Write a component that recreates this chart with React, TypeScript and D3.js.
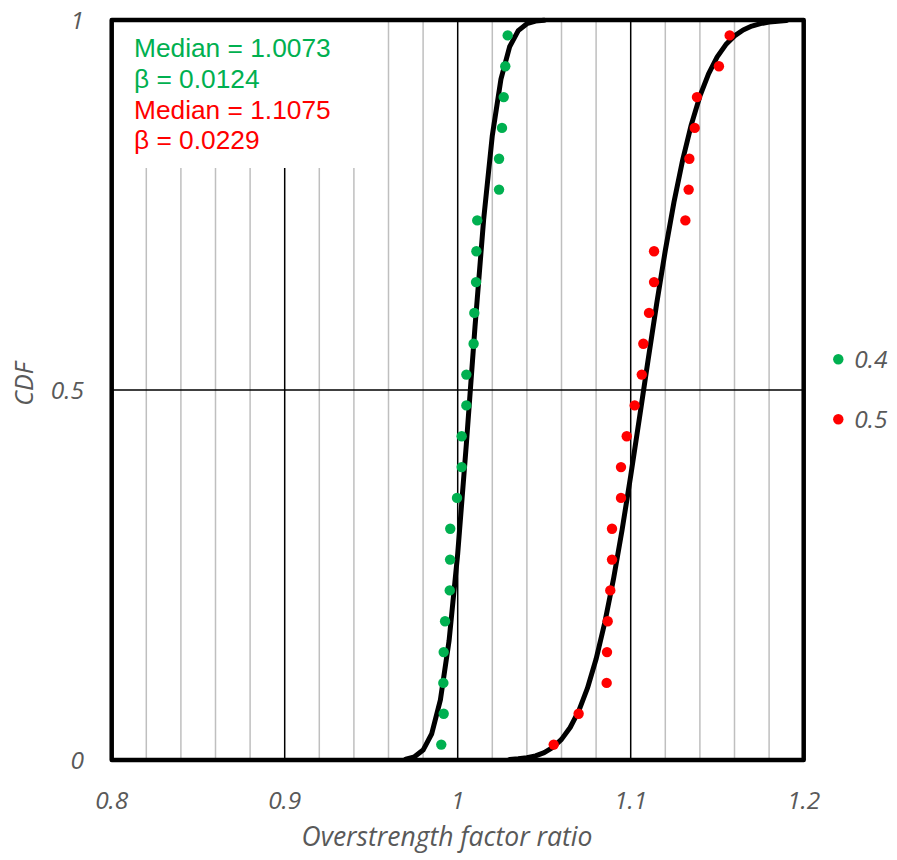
import React from 'react';
import * as d3 from 'd3';

const W = 897;
const H = 860;

// Axis ticks
const xTicks = [0.8, 0.9, 1.0, 1.1, 1.2];
const xTickLabels = ['0.8', '0.9', '1', '1.1', '1.2'];
const yTicks = [0, 0.5, 1];
const yTickLabels = ['0', '0.5', '1'];
const minorGridX = [0.82, 0.84, 0.86, 0.88, 0.92, 0.94, 0.96, 0.98, 1.02, 1.04, 1.06, 1.08, 1.12, 1.14, 1.16, 1.18];
const majorGridX = [0.9, 1.0, 1.1];
const majorGridY = [0.5];

// Empirical CDF positions (24 samples)
const cdfLevels = [
  0.0208, 0.0625, 0.1042, 0.1458, 0.1875, 0.2292, 0.2708, 0.3125, 0.3542, 0.3958, 0.4375, 0.4792,
  0.5208, 0.5625, 0.6042, 0.6458, 0.6875, 0.7292, 0.7708, 0.8125, 0.8542, 0.8958, 0.9375, 0.9792,
];

// Series "0.4" (green) sorted ratios
const series04 = [
  0.9905, 0.9919, 0.9917, 0.9919, 0.9927, 0.9954, 0.9956, 0.9957, 0.9996, 1.0023, 1.0023, 1.005,
  1.005, 1.0092, 1.0096, 1.0106, 1.0108, 1.0113, 1.0239, 1.0239, 1.0256, 1.0266, 1.0275, 1.0289,
];
// Series "0.5" (red) sorted ratios
const series05 = [
  1.0555, 1.0699, 1.0861, 1.0863, 1.0867, 1.0882, 1.0892, 1.0892, 1.0944, 1.0944, 1.0977, 1.1023,
  1.1064, 1.1073, 1.1106, 1.1135, 1.1135, 1.1316, 1.1335, 1.1339, 1.137, 1.1383, 1.151, 1.1572,
];

// Fitted curves
const fit04X = [0.97, 0.975, 0.98, 0.985, 0.99, 0.995, 1.0, 1.005, 1.01, 1.015, 1.02, 1.025, 1.03, 1.035, 1.04, 1.045, 1.05];
const fit04Y = [0.0012, 0.0043, 0.0134, 0.0355, 0.0812, 0.1609, 0.2787, 0.4268, 0.5854, 0.7304, 0.8438, 0.92, 0.9638, 0.9857, 0.995, 0.9985, 0.9996];
const fit05X = [
  1.03, 1.035, 1.04, 1.045, 1.05, 1.055, 1.06, 1.065, 1.07, 1.075, 1.08, 1.085, 1.09, 1.095, 1.1, 1.105, 1.11,
  1.115, 1.12, 1.125, 1.13, 1.135, 1.14, 1.145, 1.15, 1.155, 1.16, 1.165, 1.17, 1.175, 1.18, 1.185, 1.19,
];
const fit05Y = [
  0.0008, 0.0016, 0.003, 0.0056, 0.01, 0.017, 0.0279, 0.0439, 0.0665, 0.097, 0.1364, 0.1855, 0.2438, 0.3106,
  0.3839, 0.4613, 0.5398, 0.6165, 0.6885, 0.7537, 0.8105, 0.8583, 0.897, 0.9273, 0.9501, 0.9668, 0.9785,
  0.9865, 0.9918, 0.9951, 0.9972, 0.9984, 0.9992,
];

const annotations = [
  { text: 'Median = 1.0073', color: '#00B050' },
  { text: 'β = 0.0124', color: '#00B050' },
  { text: 'Median = 1.1075', color: '#FF0000' },
  { text: 'β = 0.0229', color: '#FF0000' },
];

const legendItems = [
  { label: '0.4', color: '#00B050' },
  { label: '0.5', color: '#FF0000' },
];

const GREEN = '#00B050';
const RED = '#FF0000';
const GRAY_TEXT = '#595959';
const TICK_FONT = '"Open Sans", "DejaVu Sans", sans-serif';
const ANNO_FONT = '"Liberation Sans", Arial, sans-serif';

export default function App() {
  const left = 111.7;
  const right = 803.7;
  const top = 20;
  const bottom = 760;

  const x = d3.scaleLinear().domain([0.8, 1.2]).range([left, right]);
  const y = d3.scaleLinear().domain([0, 1]).range([bottom, top]);

  const line = d3
    .line<[number, number]>()
    .x((d) => x(d[0]))
    .y((d) => y(d[1]));

  const fit04 = fit04X.map((v, i) => [v, fit04Y[i]] as [number, number]);
  const fit05 = fit05X.map((v, i) => [v, fit05Y[i]] as [number, number]);

  const boxW = 262;
  const boxH = 148;

  return (
    <svg
      width={W}
      height={H}
      style={{ position: 'absolute', left: 0, top: 0, background: '#fff' }}
      xmlns="http://www.w3.org/2000/svg"
    >
      <rect x={0} y={0} width={W} height={H} fill="#fff" />
      {/* minor vertical grid */}
      {minorGridX.map((v) => (
        <line key={'mg' + v} x1={x(v)} x2={x(v)} y1={top} y2={bottom} stroke="#BFBFBF" strokeWidth={1.5} />
      ))}
      {majorGridX.map((v) => (
        <line key={'Mg' + v} x1={x(v)} x2={x(v)} y1={top} y2={bottom} stroke="#000" strokeWidth={1.5} />
      ))}
      {majorGridY.map((v) => (
        <line key={'My' + v} x1={left} x2={right} y1={y(v)} y2={y(v)} stroke="#000" strokeWidth={1.5} />
      ))}

      {/* annotation box */}
      <rect x={left} y={top} width={boxW} height={boxH} fill="#fff" />
      {annotations.map((a, i) => (
        <text
          key={'an' + i}
          x={134}
          y={57.3 + i * 30.7}
          fill={a.color}
          fontFamily={ANNO_FONT}
          fontSize={26.3}
        >
          {a.text}
        </text>
      ))}

      {/* fitted curves */}
      <path d={line(fit04) || ''} fill="none" stroke="#000" strokeWidth={5} strokeLinejoin="round" strokeLinecap="round" />
      <path d={line(fit05) || ''} fill="none" stroke="#000" strokeWidth={5} strokeLinejoin="round" strokeLinecap="round" />

      {/* data points */}
      {series04.map((v, i) => (
        <circle key={'g' + i} cx={x(v)} cy={y(cdfLevels[i])} r={5.2} fill={GREEN} />
      ))}
      {series05.map((v, i) => (
        <circle key={'r' + i} cx={x(v)} cy={y(cdfLevels[i])} r={5.2} fill={RED} />
      ))}

      {/* frame */}
      <rect
        x={left}
        y={top}
        width={right - left}
        height={bottom - top}
        fill="none"
        stroke="#000"
        strokeWidth={4.5}
        strokeLinejoin="round"
      />

      {/* x tick labels */}
      {xTicks.map((v, i) => (
        <text
          key={'xt' + v}
          x={x(v)}
          y={809}
          textAnchor="middle"
          fill={GRAY_TEXT}
          fontFamily={TICK_FONT}
          fontStyle="italic"
          fontSize={24.5}
        >
          {xTickLabels[i]}
        </text>
      ))}
      {/* y tick labels */}
      {yTicks.map((v, i) => (
        <text
          key={'yt' + v}
          x={84}
          y={y(v)}
          dy="0.35em"
          textAnchor="end"
          fill={GRAY_TEXT}
          fontFamily={TICK_FONT}
          fontStyle="italic"
          fontSize={24.5}
        >
          {yTickLabels[i]}
        </text>
      ))}

      {/* axis titles */}
      <text
        x={447}
        y={846}
        textAnchor="middle"
        fill={GRAY_TEXT}
        fontFamily={TICK_FONT}
        fontStyle="italic"
        fontSize={26.5}
      >
        Overstrength factor ratio
      </text>
      <text
        transform={`translate(33, 384) rotate(-90)`}
        textAnchor="middle"
        fill={GRAY_TEXT}
        fontFamily={TICK_FONT}
        fontStyle="italic"
        fontSize={25}
      >
        CDF
      </text>

      {/* legend */}
      {legendItems.map((it, i) => (
        <g key={'lg' + i} transform={`translate(838.3, ${359.3 + i * 60})`}>
          <circle cx={0} cy={0} r={5.2} fill={it.color} />
          <text
            x={16}
            y={0}
            dy="0.35em"
            fill={GRAY_TEXT}
            fontFamily={TICK_FONT}
            fontStyle="italic"
            fontSize={24.5}
          >
            {it.label}
          </text>
        </g>
      ))}
    </svg>
  );
}
